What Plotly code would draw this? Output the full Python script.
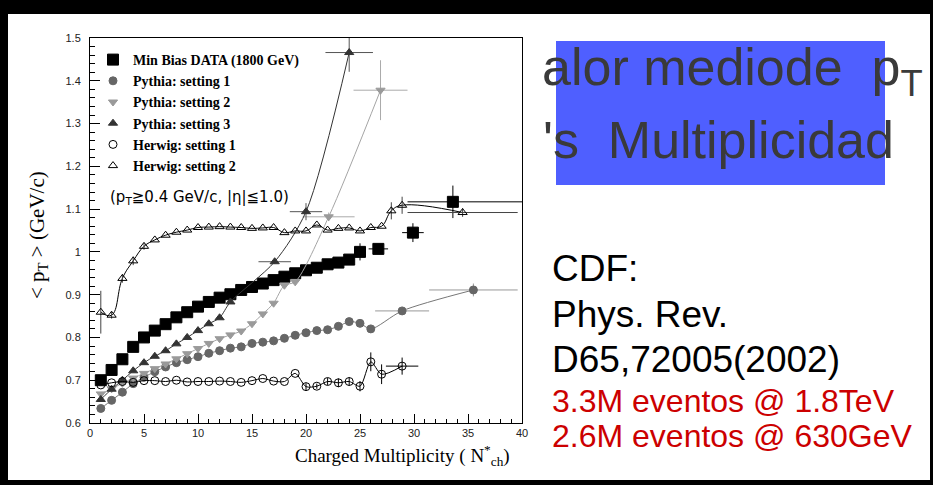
import plotly.graph_objects as go

# ---- data ----
data_x = [1, 2, 3, 4, 5, 6, 7, 8, 9, 10, 11, 12, 13, 14, 15, 16, 17, 18, 19, 20,
          21, 22, 23, 24, 25, 26.7, 29.9, 33.6]
data_y = [0.700, 0.724, 0.749, 0.778, 0.800, 0.816, 0.831, 0.847, 0.859, 0.872,
          0.883, 0.893, 0.901, 0.911, 0.918, 0.926, 0.934, 0.942, 0.950, 0.957,
          0.963, 0.971, 0.975, 0.982, 1.000, 1.007, 1.045, 1.117]
data_ex_plus = [0] * 25 + [0.9, 1.0, 6.5]
data_ex_minus = [0] * 25 + [0.9, 1.0, 4.2]
data_ey = [0] * 24 + [0.02, 0.01, 0.022, 0.038]

py1_x = [1, 2, 3, 4, 5, 6, 7, 8, 9, 10, 11, 12, 13, 14, 15, 16, 17, 18, 19, 20,
         21, 22, 23, 24, 25, 26, 28.9, 35.5]
py1_y = [0.634, 0.653, 0.672, 0.692, 0.707, 0.720, 0.731, 0.741, 0.748, 0.755,
         0.763, 0.769, 0.775, 0.778, 0.786, 0.789, 0.792, 0.798, 0.805, 0.811,
         0.816, 0.818, 0.826, 0.837, 0.833, 0.820, 0.862, 0.911]
py1_ex = [0] * 26 + [2.5, 4.1]
py1_ey = [0] * 26 + [0.005, 0.015]

py2_x = [1, 2, 3, 4, 5, 6, 7, 8, 9, 10, 11, 12, 13, 14, 15, 16, 17, 18, 19,
         22.1, 26.9]
py2_y = [0.668, 0.680, 0.693, 0.705, 0.716, 0.727, 0.738, 0.750, 0.762, 0.774,
         0.786, 0.797, 0.806, 0.815, 0.832, 0.855, 0.880, 0.922, 0.930,
         1.082, 1.378]
py2_ex = [0] * 19 + [2.4, 2.5]
py2_ey = [0] * 19 + [0.01, 0.07]

py3_x = [1, 2, 3, 4, 5, 6, 7, 8, 9, 10, 11, 12, 13, 17.1, 20, 24]
py3_y = [0.655, 0.679, 0.700, 0.722, 0.741, 0.756, 0.769, 0.785, 0.800, 0.816,
         0.832, 0.846, 0.883, 0.977, 1.094, 1.466]
py3_ex = [0] * 13 + [1.5, 1.5, 2.2]
py3_ey = [0] * 13 + [0.005, 0.02, 0.045]

hw1_x = [1, 2, 3, 4, 5, 6, 7, 8, 9, 10, 11, 12, 13, 14, 15, 16, 17, 18, 19, 20,
         21, 22, 23, 24, 25, 26, 27, 28.9]
hw1_y = [0.689, 0.694, 0.697, 0.695, 0.699, 0.699, 0.697, 0.700, 0.696, 0.697,
         0.697, 0.698, 0.697, 0.695, 0.699, 0.704, 0.698, 0.697, 0.716, 0.685,
         0.686, 0.697, 0.694, 0.697, 0.686, 0.743, 0.714, 0.733]
hw1_ex = [0] * 27 + [1.5]
hw1_ey = [0] * 19 + [0.008, 0.006, 0.008, 0.01, 0.01, 0.012, 0.022, 0.023, 0.02]

hw2_x = [1, 2, 3, 4, 5, 6, 7, 8, 9, 10, 11, 12, 13, 14, 15, 16, 17, 18, 19, 20,
         21, 22, 23, 24, 25, 26, 27, 27.9, 28.9, 34.5]
hw2_y = [0.859, 0.852, 0.938, 0.979, 1.013, 1.028, 1.039, 1.046, 1.051, 1.057,
         1.058, 1.059, 1.058, 1.057, 1.055, 1.056, 1.057, 1.045, 1.049, 1.049,
         1.063, 1.051, 1.055, 1.056, 1.049, 1.057, 1.060, 1.096, 1.109, 1.092]
hw2_ex = [0] * 29 + [5.1]
hw2_ey = [0.05, 0.008, 0.01, 0.01, 0.008] + [0] * 22 + [0.02, 0.02, 0.01]

# ---- page geometry (pixels) ----
W, H = 933, 485
L, R, T, B = 90, 522, 38, 423


def px(x):
    return (x - L) / (R - L)


def py(y):
    return (B - y) / (B - T)


SERIF = "Liberation Serif, Times New Roman, serif"
SANS = "Liberation Sans, Arial, sans-serif"

fig = go.Figure()


def add_series(name, xs, ys, color, symbol, size, ex=None, exm=None, ey=None,
               line_color=None, bar_color=None, smooth=0.8):
    if line_color:
        fig.add_trace(go.Scatter(
            x=xs, y=ys, mode='lines', showlegend=False, hoverinfo='skip',
            line=dict(color=line_color, width=1, shape='spline', smoothing=smooth)
        ))
    err_x = None
    if ex is not None:
        err_x = dict(type='data', array=ex, visible=True, width=0, thickness=1,
                     color=bar_color or color)
        if exm is not None:
            err_x.update(symmetric=False, arrayminus=exm)
    err_y = None
    if ey is not None:
        err_y = dict(type='data', array=ey, visible=True, width=0, thickness=1,
                     color=bar_color or color)
    fig.add_trace(go.Scatter(
        x=xs, y=ys, mode='markers', name=name,
        marker=dict(color=color, symbol=symbol, size=size,
                    line=dict(color=color, width=1)),
        error_x=err_x, error_y=err_y
    ))


add_series("Min Bias DATA (1800 GeV)", data_x, data_y, 'black', 'square', 11,
           ex=data_ex_plus, exm=data_ex_minus, ey=data_ey)
add_series("Pythia: setting 1", py1_x, py1_y, '#666666', 'circle', 8,
           ex=py1_ex, ey=py1_ey, line_color='#777777', bar_color='#999999')
add_series("Pythia: setting 2", py2_x, py2_y, '#9a9a9a', 'triangle-down', 8,
           ex=py2_ex, ey=py2_ey, line_color='#a5a5a5', bar_color='#aaaaaa')
add_series("Pythia: setting 3", py3_x, py3_y, '#333333', 'triangle-up', 8,
           ex=py3_ex, ey=py3_ey, line_color='#333333', bar_color='#555555')
add_series("Herwig: setting 1", hw1_x, hw1_y, 'black', 'circle-open', 8,
           ex=hw1_ex, ey=hw1_ey, line_color='black')
add_series("Herwig: setting 2", hw2_x, hw2_y, 'black', 'triangle-up-open', 8,
           ex=hw2_ex, ey=hw2_ey, line_color='black', bar_color='#444444',
           smooth=1.2)

fig.update_xaxes(
    range=[0, 40], dtick=5, tick0=0, ticks='inside', ticklen=9, tickcolor='black',
    minor=dict(ticks='inside', dtick=1, ticklen=4, tickcolor='black'),
    showline=True, linecolor='black', linewidth=1, mirror=True,
    showgrid=False, zeroline=False,
    tickfont=dict(family=SANS, size=11, color='#222222')
)
fig.update_yaxes(
    range=[0.6, 1.5], dtick=0.1, tick0=0.6, ticks='inside', ticklen=10,
    tickcolor='black',
    minor=dict(ticks='inside', dtick=0.02, ticklen=5, tickcolor='black'),
    showline=True, linecolor='black', linewidth=1, mirror=True,
    showgrid=False, zeroline=False, ticklabelstandoff=6,
    tickfont=dict(family=SANS, size=11, color='#222222')
)

red = '#cc0000'
annotations = [
    dict(x=px(108), y=py(197), xanchor='left', yanchor='middle',
         text='(p<sub>T</sub>≧0.4 GeV/c, |η|≦1.0)',
         font=dict(family="DejaVu Sans, sans-serif", size=15, color='black')),
    dict(x=px(402), y=py(455), xanchor='center', yanchor='middle',
         text='Charged Multiplicity ( N<sup>*</sup><sub>ch</sub>)',
         font=dict(family=SERIF, size=19, color='black')),
    dict(x=px(38), y=py(235), xanchor='center', yanchor='middle', textangle=-90,
         text='< p<sub>T</sub> > (GeV/c)',
         font=dict(family=SERIF, size=21, color='black')),
    dict(x=px(540), y=py(71), xanchor='left', yanchor='middle',
         text='alor mediode\u00a0\u00a0p<sub>T</sub>',
         font=dict(family=SANS, size=52, color='#3a3a3a')),
    dict(x=px(541), y=py(140), xanchor='left', yanchor='middle',
         text="'s\u00a0\u00a0Multiplicidad",
         font=dict(family=SANS, size=52, color='#3a3a3a')),
    dict(x=px(550), y=py(268), xanchor='left', yanchor='middle', text='CDF:',
         font=dict(family=SANS, size=37, color='black')),
    dict(x=px(550), y=py(314), xanchor='left', yanchor='middle', text='Phys. Rev.',
         font=dict(family=SANS, size=37, color='black')),
    dict(x=px(550), y=py(359), xanchor='left', yanchor='middle',
         text='D65,72005(2002)',
         font=dict(family=SANS, size=37, color='black')),
    dict(x=px(550), y=py(401), xanchor='left', yanchor='middle',
         text='3.3M eventos @ 1.8TeV',
         font=dict(family=SANS, size=32, color=red)),
    dict(x=px(550), y=py(436), xanchor='left', yanchor='middle',
         text='2.6M eventos @ 630GeV',
         font=dict(family=SANS, size=32, color=red)),
]
for a in annotations:
    a.update(xref='paper', yref='paper', showarrow=False)

shapes = [
    # white slide inside the black frame
    dict(type='rect', xref='paper', yref='paper', layer='below',
         x0=px(8), x1=px(930), y0=py(480), y1=py(14),
         fillcolor='white', line=dict(width=0)),
    # blue title box
    dict(type='rect', xref='paper', yref='paper', layer='below',
         x0=px(556), x1=px(885), y0=py(185), y1=py(41),
         fillcolor='#4f5fff', line=dict(width=0)),
]

fig.update_layout(
    width=W, height=H,
    margin=dict(l=L, r=W - R, t=T, b=H - B, autoexpand=False),
    paper_bgcolor='black', plot_bgcolor='white',
    showlegend=True,
    legend=dict(x=px(93), y=py(44), xanchor='left', yanchor='top',
                bgcolor='rgba(0,0,0,0)', borderwidth=0,
                font=dict(family=SERIF, size=14, color='black', weight='bold'),
                tracegroupgap=0),
    annotations=annotations,
    shapes=shapes,
)

# drop the page's default body margin so the figure sits at the window origin
fig.write_html(
    "out.html",
    config={'displayModeBar': False},
    post_script="document.body.style.margin='0';"
                "document.body.style.background='black';"
)
